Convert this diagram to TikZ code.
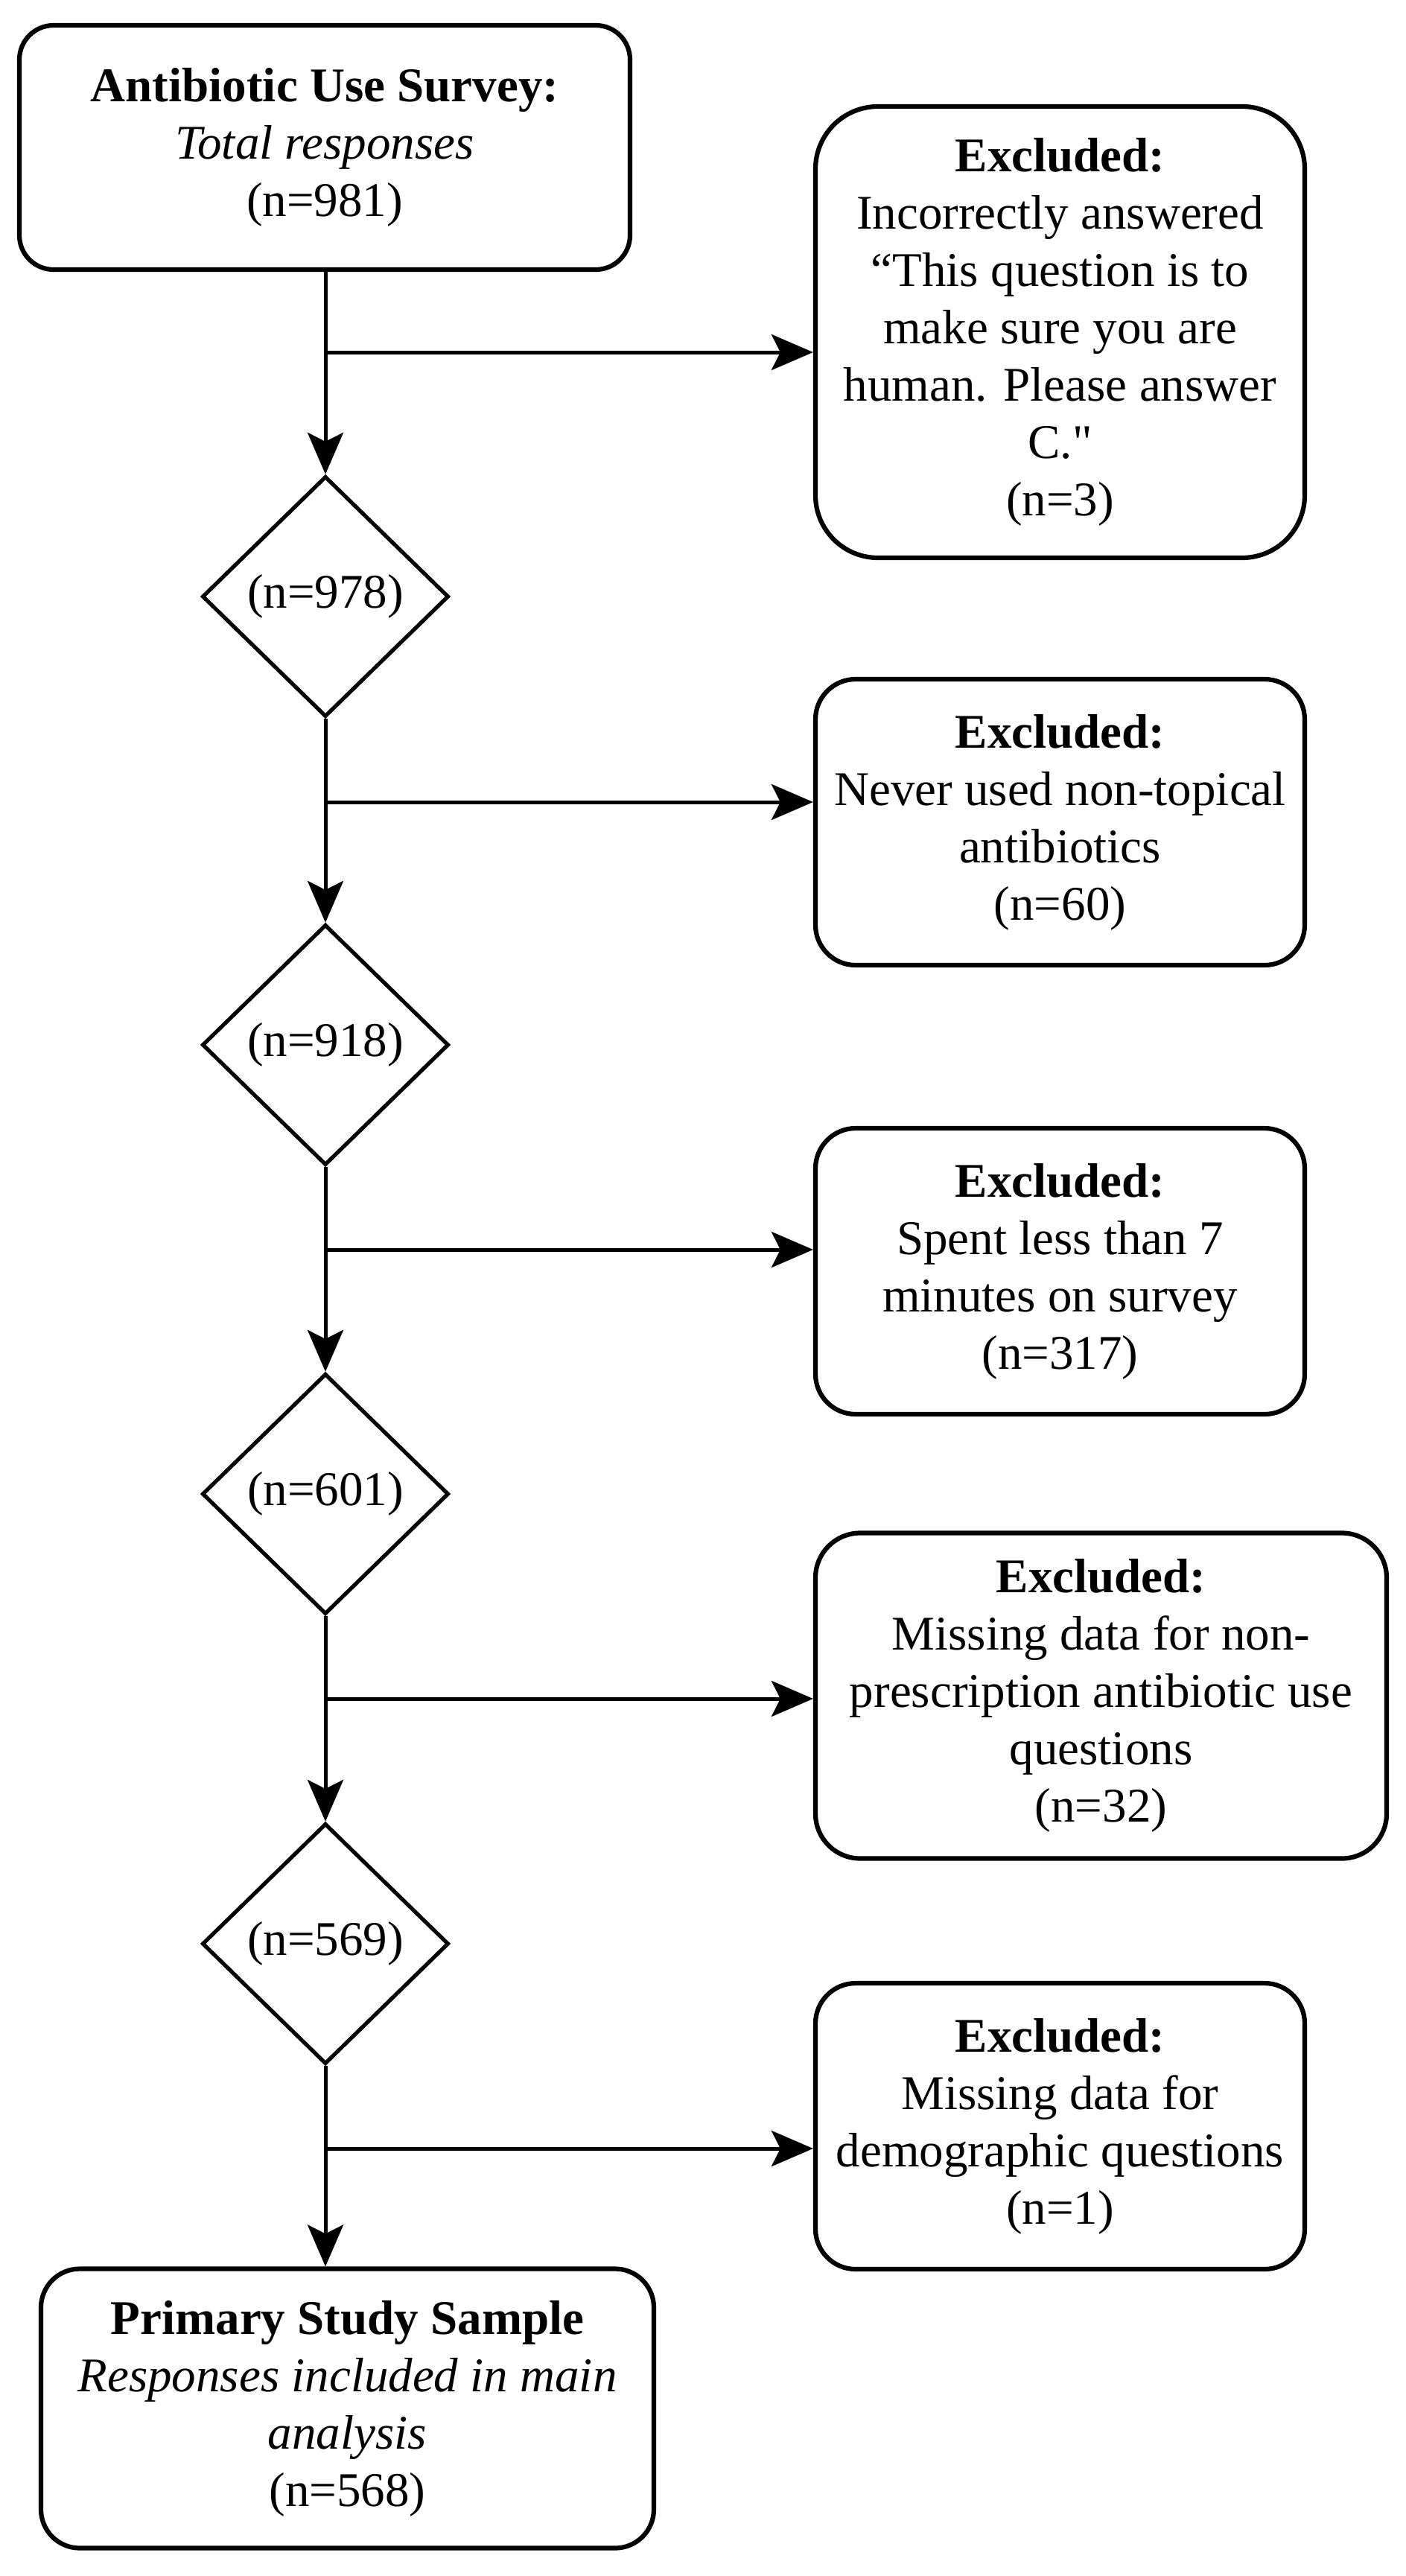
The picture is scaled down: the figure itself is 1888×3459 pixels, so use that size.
\documentclass[tikz,border=0pt]{standalone}
\usepackage{fontspec}
\setmainfont{Liberation Serif}
\newfontfamily\rawserif{Liberation Serif}[Ligatures=TeXOff]
\usetikzlibrary{shapes.geometric,arrows.meta}
\begin{document}
\begin{tikzpicture}[x=0.5pt,y=-0.5pt,
  every node/.style={font=\fontsize{32.5}{38.5}\selectfont, align=center, inner sep=0pt},
  rbox/.style={draw, line width=3.1pt, rectangle, fill=white},
  dmd/.style={draw, line width=2.6pt, diamond, fill=white},
  arr/.style={line width=2.5pt, -{Stealth[length=28pt,width=24pt,inset=6pt]}}
]
\useasboundingbox (0,0) rectangle (1888,3459);

% main column
\node[rbox, rounded corners=23pt, minimum width=410pt, minimum height=164pt] (top) at (436,198)
  {\textbf{Antibiotic Use Survey:}\\ \textit{Total responses}\\ (n=981)};
\node[dmd, minimum width=165.5pt, minimum height=161.5pt] (d1) at (437,801) {(n=978)};
\node[dmd, minimum width=165.5pt, minimum height=161.5pt] (d2) at (437,1403) {(n=918)};
\node[dmd, minimum width=165.5pt, minimum height=161.5pt] (d3) at (437,2006) {(n=601)};
\node[dmd, minimum width=165.5pt, minimum height=161.5pt] (d4) at (437,2610) {(n=569)};
\node[rbox, rounded corners=26pt, minimum width=411.5pt, minimum height=187.5pt] (final) at (466.5,3234)
  {\textbf{Primary Study Sample}\\ \textit{Responses included in main}\\ \textit{analysis}\\ (n=568)};

% excluded boxes
\node[rbox, rounded corners=42pt, minimum width=328.5pt, minimum height=303pt] (b1) at (1423.5,446)
  {\textbf{Excluded:}\\ Incorrectly answered\\ “This question is to\\ make sure you are\\ human. Please answer\\ C.{\rawserif "}\\ (n=3)};
\node[rbox, rounded corners=27pt, minimum width=328.5pt, minimum height=192pt] (b2) at (1423.5,1104)
  {\textbf{Excluded:}\\ Never used non-topical\\ antibiotics\\ (n=60)};
\node[rbox, rounded corners=27pt, minimum width=328.5pt, minimum height=192pt] (b3) at (1423.5,1707)
  {\textbf{Excluded:}\\ Spent less than 7\\ minutes on survey\\ (n=317)};
\node[rbox, rounded corners=30pt, minimum width=383.5pt, minimum height=218.5pt] (b4) at (1478.5,2277)
  {\textbf{Excluded:}\\ Missing data for non-\\ prescription antibiotic use\\ questions\\ (n=32)};
\node[rbox, rounded corners=27pt, minimum width=328.5pt, minimum height=192pt] (b5) at (1423.5,2855)
  {\textbf{Excluded:}\\ Missing data for\\ demographic questions\\ (n=1)};

% junction points on the main line
\coordinate (j1) at (437,473);
\coordinate (j2) at (437,1077);
\coordinate (j3) at (437,1678);
\coordinate (j4) at (437,2281);
\coordinate (j5) at (437,2885);

% vertical connectors
\draw[arr] (top.south -| d1.north) -- (d1.north);
\draw[arr] (d1.south) -- (d2.north);
\draw[arr] (d2.south) -- (d3.north);
\draw[arr] (d3.south) -- (d4.north);
\draw[arr] (d4.south) -- (d4.south |- final.north);

% branch connectors
\draw[arr] (j1) -- (j1 -| b1.west);
\draw[arr] (j2) -- (j2 -| b2.west);
\draw[arr] (j3) -- (j3 -| b3.west);
\draw[arr] (j4) -- (j4 -| b4.west);
\draw[arr] (j5) -- (j5 -| b5.west);
\end{tikzpicture}
\end{document}
